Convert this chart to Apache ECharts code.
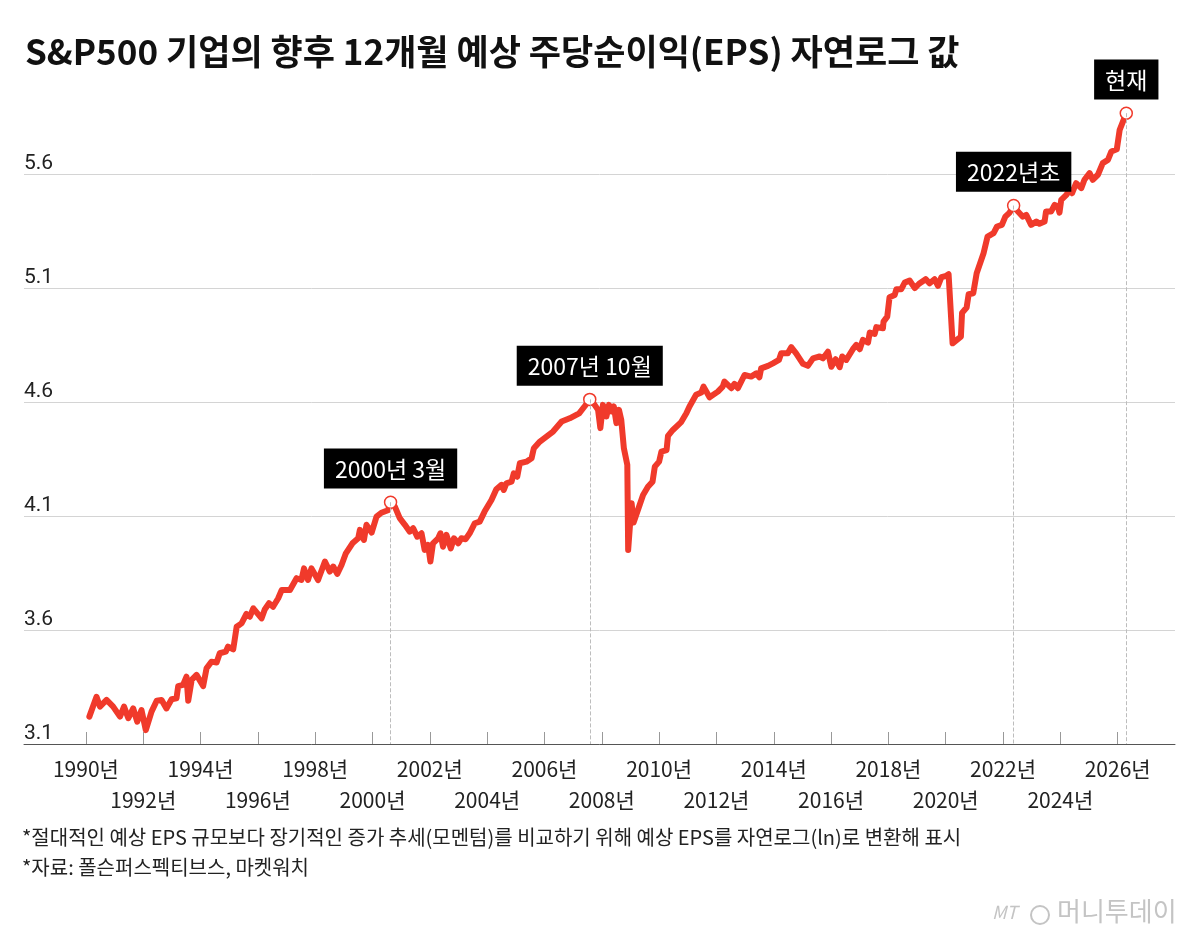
<!DOCTYPE html>
<html>
<head>
<meta charset="utf-8">
<script src="https://cdn.jsdelivr.net/npm/echarts@6/dist/echarts.min.js"></script>
<style>
  html, body { margin: 0; padding: 0; background: #fff; }
  #myChart { width: 1200px; height: 941px; }
</style>
</head>
<body>
<div id="myChart"></div>
<script>
// 연도(소수) / 예상 EPS 자연로그 값
const years = [
  1990.12, 1990.37, 1990.49, 1990.72, 1990.95, 1991.19, 1991.33, 1991.48, 1991.65, 1991.79, 1991.94,
  1992.09, 1992.29, 1992.47, 1992.64, 1992.81, 1992.99, 1993.16, 1993.22, 1993.39, 1993.51, 1993.57,
  1993.69, 1993.86, 1994.09, 1994.21, 1994.38, 1994.56, 1994.67, 1994.88, 1994.96, 1995.14, 1995.26,
  1995.43, 1995.60, 1995.72, 1995.84, 1996.13, 1996.24, 1996.39, 1996.53, 1996.71, 1996.83, 1997.12,
  1997.35, 1997.52, 1997.61, 1997.75, 1997.87, 1998.10, 1998.34, 1998.51, 1998.63, 1998.77, 1998.92,
  1999.07, 1999.30, 1999.50, 1999.56, 1999.70, 1999.79, 1999.97, 2000.14, 2000.31, 2000.54, 2000.63,
  2000.78, 2000.95, 2001.13, 2001.30, 2001.42, 2001.56, 2001.71, 2001.82, 2001.94, 2002.02, 2002.11,
  2002.29, 2002.37, 2002.46, 2002.58, 2002.73, 2002.84, 2002.99, 2003.10, 2003.25, 2003.39, 2003.57,
  2003.74, 2003.91, 2004.15, 2004.32, 2004.50, 2004.58, 2004.67, 2004.85, 2004.93, 2005.05, 2005.14,
  2005.37, 2005.55, 2005.63, 2005.84, 2006.07, 2006.30, 2006.60, 2006.88, 2007.21, 2007.41, 2007.58,
  2007.75, 2007.87, 2007.95, 2008.04, 2008.16, 2008.25, 2008.34, 2008.42, 2008.51, 2008.60, 2008.68,
  2008.77, 2008.89, 2008.92, 2009.04, 2009.11, 2009.26, 2009.44, 2009.61, 2009.77, 2009.85, 2010.00,
  2010.08, 2010.26, 2010.31, 2010.48, 2010.76, 2010.95, 2011.06, 2011.29, 2011.47, 2011.55, 2011.76,
  2012.05, 2012.22, 2012.28, 2012.52, 2012.63, 2012.75, 2012.98, 2013.21, 2013.39, 2013.50, 2013.56,
  2013.80, 2013.97, 2014.18, 2014.26, 2014.49, 2014.61, 2014.78, 2015.02, 2015.19, 2015.37, 2015.60,
  2015.72, 2015.89, 2016.01, 2016.16, 2016.30, 2016.39, 2016.53, 2016.76, 2016.88, 2017.00, 2017.11,
  2017.29, 2017.35, 2017.52, 2017.58, 2017.81, 2017.83, 2017.96, 2018.04, 2018.22, 2018.28, 2018.45,
  2018.57, 2018.74, 2018.92, 2019.07, 2019.30, 2019.44, 2019.61, 2019.73, 2019.85, 2020.02, 2020.10,
  2020.24, 2020.53, 2020.57, 2020.73, 2020.80, 2020.96, 2021.08, 2021.32, 2021.46, 2021.67, 2021.79,
  2021.96, 2022.08, 2022.23, 2022.37, 2022.52, 2022.69, 2022.81, 2022.98, 2023.16, 2023.27, 2023.45,
  2023.50, 2023.68, 2023.80, 2023.91, 2023.97, 2024.03, 2024.21, 2024.32, 2024.41, 2024.55, 2024.73,
  2024.84, 2025.02, 2025.13, 2025.31, 2025.48, 2025.66, 2025.78, 2025.97, 2026.07, 2026.30
];
const epsLn = [
  3.220, 3.307, 3.264, 3.293, 3.264, 3.220, 3.264, 3.213, 3.256, 3.198, 3.249,
  3.161, 3.242, 3.290, 3.293, 3.256, 3.296, 3.300, 3.354, 3.359, 3.395, 3.290,
  3.381, 3.403, 3.354, 3.432, 3.461, 3.457, 3.498, 3.505, 3.527, 3.515, 3.614,
  3.629, 3.670, 3.658, 3.695, 3.651, 3.690, 3.717, 3.702, 3.739, 3.775, 3.775,
  3.827, 3.819, 3.870, 3.819, 3.870, 3.819, 3.900, 3.856, 3.878, 3.846, 3.885,
  3.936, 3.980, 4.002, 4.039, 3.995, 4.061, 4.027, 4.097, 4.114, 4.125, 4.160,
  4.141, 4.090, 4.061, 4.031, 4.046, 4.009, 4.024, 3.951, 3.973, 3.900, 3.980,
  4.002, 4.024, 3.965, 4.017, 3.958, 4.002, 3.980, 4.002, 3.998, 4.024, 4.068,
  4.075, 4.119, 4.170, 4.217, 4.236, 4.214, 4.243, 4.250, 4.287, 4.272, 4.331,
  4.338, 4.353, 4.397, 4.426, 4.448, 4.470, 4.514, 4.528, 4.550, 4.582, 4.611,
  4.587, 4.565, 4.485, 4.587, 4.536, 4.587, 4.558, 4.580, 4.507, 4.565, 4.521,
  4.397, 4.324, 3.951, 4.156, 4.071, 4.126, 4.192, 4.228, 4.250, 4.316, 4.338,
  4.382, 4.389, 4.451, 4.477, 4.510, 4.550, 4.580, 4.631, 4.641, 4.667, 4.620,
  4.645, 4.667, 4.689, 4.660, 4.679, 4.660, 4.718, 4.711, 4.725, 4.708, 4.747,
  4.758, 4.769, 4.784, 4.813, 4.813, 4.840, 4.813, 4.767, 4.758, 4.791, 4.799,
  4.791, 4.820, 4.754, 4.787, 4.752, 4.799, 4.784, 4.831, 4.850, 4.831, 4.872,
  4.860, 4.904, 4.898, 4.928, 4.923, 4.952, 4.974, 5.059, 5.069, 5.094, 5.094,
  5.123, 5.132, 5.099, 5.118, 5.138, 5.120, 5.138, 5.109, 5.147, 5.153, 5.160,
  4.857, 4.886, 4.990, 5.014, 5.072, 5.076, 5.164, 5.252, 5.325, 5.340, 5.369,
  5.376, 5.412, 5.430, 5.461, 5.435, 5.412, 5.420, 5.376, 5.391, 5.381, 5.391,
  5.435, 5.435, 5.464, 5.457, 5.430, 5.486, 5.508, 5.530, 5.515, 5.559, 5.537,
  5.574, 5.603, 5.574, 5.596, 5.647, 5.661, 5.698, 5.708, 5.793, 5.866
];
const tickYears = [1990, 1992, 1994, 1996, 1998, 2000, 2002, 2004, 2006, 2008,
  2010, 2012, 2014, 2016, 2018, 2020, 2022, 2024, 2026];
// 윗줄 / 아랫줄 연도 라벨
const labelYearsTop = [1990, 1994, 1998, 2002, 2006, 2010, 2014, 2018, 2022, 2026];
const labelYearsBottom = [1992, 1996, 2000, 2004, 2008, 2012, 2016, 2020, 2024];
// 주요 시점 표시
const noteYears = [2000.63, 2007.58, 2022.37, 2026.30];
const noteValues = [4.160, 4.611, 5.461, 5.866];
const noteTexts = ['2000년 3월', '2007년 10월', '2022년초', '현재'];

const FONT = '"Noto Sans CJK KR", "Noto Sans", sans-serif';
const RED = '#f03a2b';

let myChart = echarts.init(document.getElementById('myChart'));

const yearLabel = {
  showMinLabel: true,
  showMaxLabel: true,
  hideOverlap: false,
  margin: 10,
  fontSize: 21,
  lineHeight: 31,
  color: '#222',
  fontFamily: FONT,
  formatter: function (v) { return v + '년'; }
};

myChart.setOption({
  backgroundColor: '#fff',
  animation: false,
  textStyle: { fontFamily: FONT },
  grid: {
    left: 24,
    right: 25,
    top: 94,
    bottom: 197
  },
  xAxis: [
    {
      type: 'value',
      min: 1987.84,
      max: 2028,
      axisLine: { lineStyle: { color: '#555', width: 1 } },
      axisTick: {
        show: true,
        inside: true,
        length: 12,
        customValues: tickYears,
        lineStyle: { color: '#999' }
      },
      axisLabel: Object.assign({ customValues: labelYearsTop }, yearLabel),
      splitLine: { show: false }
    },
    {
      type: 'value',
      position: 'bottom',
      offset: 31,
      min: 1987.84,
      max: 2028,
      axisLine: { show: false },
      axisTick: { show: false },
      axisLabel: Object.assign({ customValues: labelYearsBottom }, yearLabel),
      splitLine: { show: false }
    }
  ],
  yAxis: {
    type: 'value',
    min: 3.1,
    max: 5.95,
    interval: 0.5,
    axisLine: { show: false },
    axisTick: { show: false },
    axisLabel: {
      inside: true,
      margin: 0,
      verticalAlign: 'bottom',
      fontSize: 21,
      color: '#222',
      fontFamily: 'Roboto, sans-serif',
      showMaxLabel: false,
      formatter: function (v) { return v.toFixed(1); }
    },
    splitLine: {
      show: true,
      showMaxLine: false,
      lineStyle: { color: '#d4d4d4', width: 1 }
    }
  },
  graphic: [
    {
      type: 'text',
      left: 25,
      top: 34,
      style: {
        text: 'S&P500 기업의 향후 12개월 예상 주당순이익(EPS) 자연로그 값',
        font: 'bold 35px ' + FONT,
        fill: '#111'
      }
    },
    {
      type: 'text',
      left: 22,
      top: 827,
      style: {
        text: '*절대적인 예상 EPS 규모보다 장기적인 증가 추세(모멘텀)를 비교하기 위해 예상 EPS를 자연로그(ln)로 변환해 표시',
        font: '20px ' + FONT,
        fill: '#222'
      }
    },
    {
      type: 'text',
      left: 22,
      top: 857,
      style: {
        text: '*자료: 폴슨퍼스펙티브스, 마켓워치',
        font: '20px ' + FONT,
        fill: '#222'
      }
    },
    {
      type: 'text',
      left: 992,
      top: 903,
      style: {
        text: 'MT',
        font: 'italic 18px ' + FONT,
        fill: '#c4c4c4'
      }
    },
    {
      type: 'circle',
      shape: { cx: 1040, cy: 915, r: 9 },
      style: { fill: 'none', stroke: '#c4c4c4', lineWidth: 2 }
    },
    {
      type: 'text',
      left: 1057,
      top: 898,
      style: {
        text: '머니투데이',
        font: '26px ' + FONT,
        fill: '#c4c4c4'
      }
    }
  ],
  series: [
    {
      name: 'dash',
      type: 'line',
      data: [],
      z: 1,
      markLine: {
        silent: true,
        symbol: ['none', 'none'],
        label: { show: false },
        lineStyle: { type: 'dashed', color: '#bdbdbd', width: 1 },
        data: noteYears.map(function (x, i) {
          return [{ coord: [x, noteValues[i]] }, { coord: [x, 3.1] }];
        })
      }
    },
    {
      name: 'EPS',
      type: 'line',
      z: 2,
      showSymbol: false,
      data: years.map(function (x, i) { return [x, epsLn[i]]; }),
      lineStyle: { color: RED, width: 6, cap: 'round', join: 'round' }
    },
    {
      name: 'notes',
      type: 'scatter',
      z: 3,
      symbol: 'circle',
      symbolSize: 12,
      itemStyle: { color: '#fff', borderColor: RED, borderWidth: 1.5, opacity: 1 },
      data: noteYears.map(function (x, i) {
        return { name: noteTexts[i], value: [x, noteValues[i]] };
      }),
      label: {
        show: true,
        position: 'top',
        distance: 7,
        formatter: '{b}',
        backgroundColor: '#000',
        color: '#fff',
        fontSize: 23,
        lineHeight: 27,
        padding: [7, 11, 6, 11],
        fontFamily: FONT
      }
    }
  ]
});
</script>
</body>
</html>
